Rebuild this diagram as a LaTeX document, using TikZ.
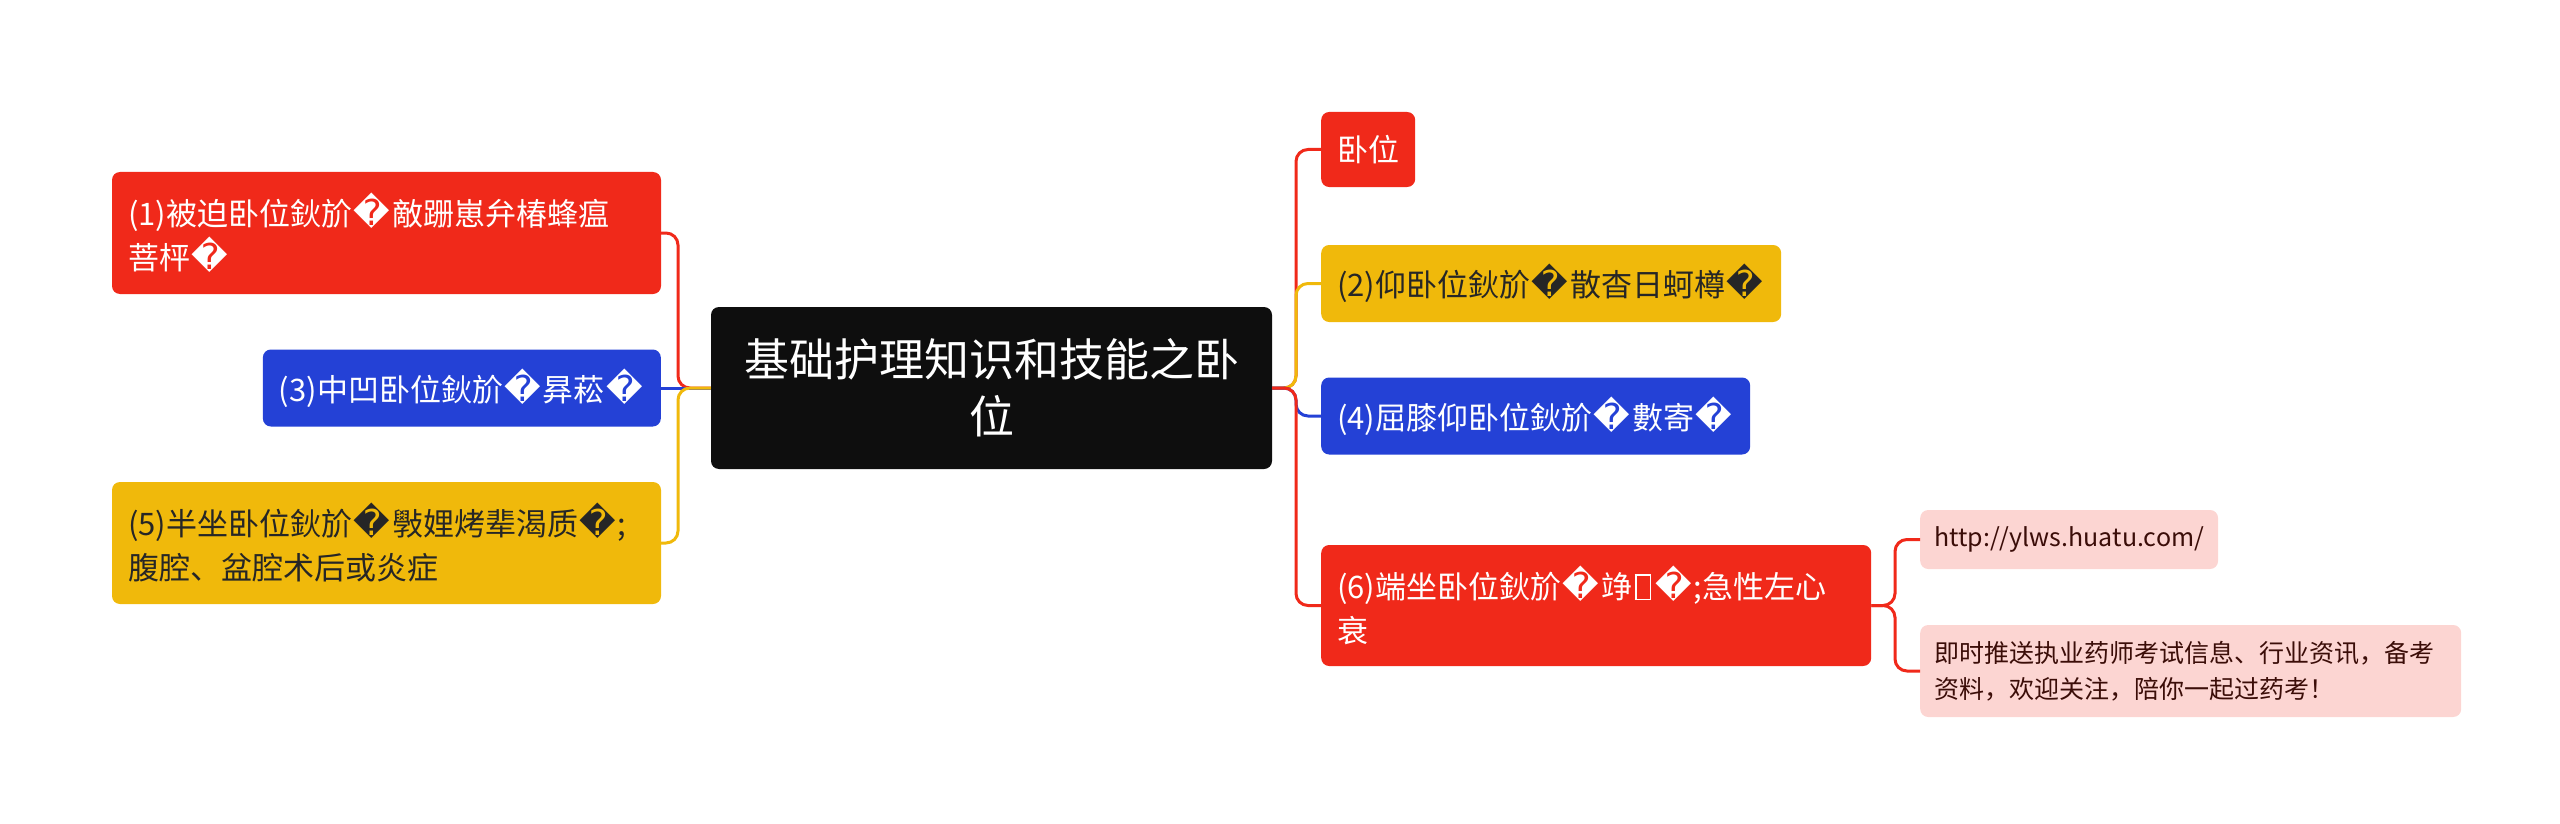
\documentclass[tikz,border=0pt]{standalone}
\usepackage{fontspec}
\usepackage{xcolor}
\setmainfont{Noto Sans CJK SC}
\newfontfamily\repfont[Scale=1.15]{DejaVu Sans}
\usetikzlibrary{positioning}

% replacement glyph and missing-glyph box
\newcommand{\rep}{{\kern0.05em\repfont\symbol{"FFFD}\kern0.05em}}
\newcommand{\tofu}{\kern0.08em{\fboxsep=0pt\fboxrule=0.06em\fbox{\rule{0pt}{0.72em}\kern0.42em}}\kern0.08em}

\definecolor{mmred}{HTML}{F0291A}
\definecolor{mmyellow}{HTML}{F0B90B}
\definecolor{mmblue}{HTML}{2441D6}
\definecolor{mmblack}{HTML}{0E0E0E}
\definecolor{mmpink}{HTML}{FCD5D2}
\definecolor{mmbrown}{HTML}{3B0D08}
\definecolor{mmdark}{HTML}{262626}

\tikzset{
	box/.style={rounded corners=8pt, inner xsep=16pt, inner ysep=0pt, align=left,
		font=\fontsize{31}{44}\selectfont},
	redbox/.style={box, fill=mmred, text=white},
	yellowbox/.style={box, fill=mmyellow, text=mmdark},
	bluebox/.style={box, fill=mmblue, text=white},
	notebox/.style={box, fill=mmpink, text=mmbrown, inner xsep=14pt,
		font=\fontsize{25}{36}\selectfont},
	rootbox/.style={box, fill=mmblack, text=white, inner xsep=20pt, align=center,
		font=\fontsize{45}{57}\selectfont},
	link/.style={line width=3pt, rounded corners=12pt},
}

\begin{document}
\begin{tikzpicture}[x=1pt,y=-1pt]
		\useasboundingbox (0,0) rectangle (2560,824);
		% root
		\node[rootbox, text width=521pt, minimum height=162pt] (C) at (991.5,388) {基础护理知识和技能之卧\\位};
		% left side
		\node[redbox, text width=517pt, minimum height=122pt] (n1) at (386.5,233) {(1)被迫卧位鈥斺\rep{}敵跚崽弁椿蜂瘟\\菩枰\rep{}};
		\node[bluebox, minimum height=77pt, anchor=east] (n3) at (661,388) {(3)中凹卧位鈥斺\rep{}昪菘\rep{}};
		\node[yellowbox, text width=517pt, minimum height=122pt] (n5) at (386.5,543) {(5)半坐卧位鈥斺\rep{}斅娌烤辈渴质\rep{};\\腹腔、盆腔术后或炎症};
		% right side
		\node[redbox, minimum height=75pt, anchor=west] (n0) at (1321,149.5) {卧位};
		\node[yellowbox, minimum height=77pt, anchor=west] (n2) at (1321,283.5) {(2)仰卧位鈥斺\rep{}散杳日蚵樽\rep{}};
		\node[bluebox, minimum height=77pt, anchor=west] (n4) at (1321,416) {(4)屈膝仰卧位鈥斺\rep{}數寄\rep{}};
		\node[redbox, text width=518pt, minimum height=121pt, anchor=west] (n6) at (1321,605.5) {(6)端坐卧位鈥斺\rep{}竫\tofu\rep{};急性左心\\衰};
		% notes
		\node[notebox, minimum height=59pt, anchor=west] (url) at (1920,539.5) {http://ylws.huatu.com/};
		\node[notebox, text width=513pt, minimum height=92pt, anchor=west] (ad) at (1920,671) {即时推送执业药师考试信息、行业资讯，备考\\资料，欢迎关注，陪你一起过药考！};
		%
		\coordinate (lt) at (678,388);
		\coordinate (rt) at (1296,388);
		\coordinate (st) at (1895,605.5);
		% left branches
		\draw[link, mmred] (C.west) -- (lt) |- (n1.east);
		\draw[link, mmblue] (C.west) -- (n3.east);
		\draw[link, mmyellow] (C.west) -- (lt) |- (n5.east);
		% right branches
		\draw[link, mmred] (C.east) -- (rt) |- (n0.west);
		\draw[link, mmyellow] (C.east) -- (rt) |- (n2.west);
		\draw[link, mmblue] (C.east) -- (rt) |- (n4.west);
		\draw[link, mmred] (C.east) -- (rt) |- (n6.west);
		% notes
		\draw[link, mmred] (n6.east) -- (st) |- (url.west);
		\draw[link, mmred] (n6.east) -- (st) |- (ad.west);
	\end{tikzpicture}
\end{document}
